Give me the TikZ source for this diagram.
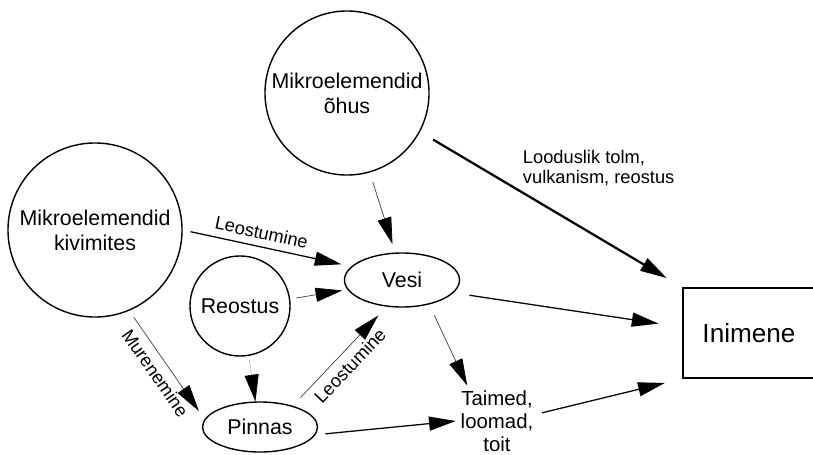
\documentclass[tikz,border=0pt]{standalone}
\usepackage{fontspec}
\setmainfont{Liberation Sans}
\usetikzlibrary{arrows.meta,shapes.geometric}

\begin{document}
\begin{tikzpicture}[x=0.025cm,y=-0.025cm,
	every node/.style={font=\fontsize{15.2}{17.8}\selectfont},
	ring/.style={circle,draw,line width=1pt,inner sep=0pt,align=center},
	oval/.style={ellipse,draw,line width=1pt,inner sep=0pt},
	lbl/.style={font=\fontsize{13}{15}\selectfont,sloped,inner sep=5pt},
	fat/.style={line width=1.6pt},
	mid/.style={line width=0.9pt},
	fine/.style={line width=0.5pt,draw=black!75},
	>={Triangle[length=19pt,width=10pt,color=black]}]
\useasboundingbox (0,0) rectangle (813,454);

\node[ring,minimum size=4.1cm] (ohus) at (347,93) {Mikroelemendid\\õhus};
\node[ring,minimum size=4.35cm] (kivim) at (95,230) {Mikroelemendid\\kivimites};
\node[ring,minimum size=2.5cm] (reost) at (240,306) {Reostus};
\node[oval,minimum width=2.875cm,minimum height=1.35cm] (vesi) at (402,280) {Vesi};
\node[oval,minimum width=2.875cm,minimum height=1.25cm] (pinnas) at (260,427) {Pinnas};
\node[align=center,font=\fontsize{14.5}{16.4}\selectfont] (taimed) at (497,421) {Taimed,\\loomad,\\toit};
\node[draw,line width=1pt,minimum width=3.3cm,minimum height=2.25cm,
	font=\fontsize{18.6}{22}\selectfont] (inim) at (749,333) {Inimene};
\node[align=left,anchor=west,font=\fontsize{13}{14.5}\selectfont] (tolm) at (518,168)
	{Looduslik tolm,\\vulkanism, reostus};

\path[->]
(ohus.-28) edge[fat,shorten <=0.38cm,shorten >=0.45cm] (inim.north west)
(ohus.-74) edge[fine,shorten <=0.25cm,shorten >=0.22cm] (vesi.104)
(kivim.0) edge[mid,shorten <=0.2cm,shorten >=0.25cm] node [lbl,auto,pos=0.45] {Leostumine} (vesi.165)
(reost.8) edge[fine,shorten <=0.15cm,shorten >=0.13cm] (vesi.190)
(vesi.-14) edge[mid,shorten <=0.4cm,shorten >=0.6cm] (inim.175)
(vesi.-42) edge[fine,shorten <=0.3cm] (taimed.130)
(kivim.-67) edge[fine,shorten <=0.2cm,shorten >=0.25cm] node [lbl,auto,swap] {Murenemine} (pinnas.172)
(reost.-80) edge[line width=0.4pt,draw=black!30,shorten <=0.1cm] (pinnas.100)
(pinnas.33) edge[fine,shorten <=0.28cm,shorten >=0.3cm] node [lbl,auto,swap] {Leostumine} (vesi.-120)
(pinnas.-8) edge[mid,shorten <=0.25cm] (taimed.west)
(taimed.10) edge[mid,shorten <=0.1cm,shorten >=0.45cm] (inim.south west)
;
\end{tikzpicture}
\end{document}
